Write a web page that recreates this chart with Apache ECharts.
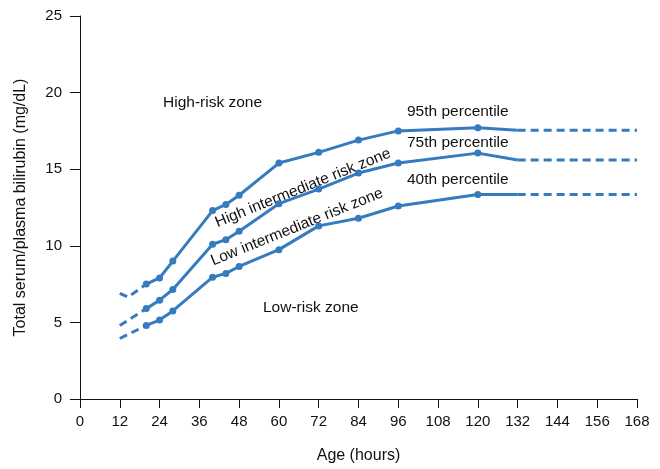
<!DOCTYPE html>
<html>
<head>
<meta charset="utf-8">
<script src="https://cdn.jsdelivr.net/npm/echarts@6/dist/echarts.min.js"></script>
<style>html,body{margin:0;padding:0;background:#fff}#c{width:660px;height:469px}</style>
</head>
<body>
<div id="c"></div>
<script>
// Data
var hours = [20, 24, 28, 40, 44, 48, 60, 72, 84, 96, 120, 132];
var p95 = [7.5, 7.9, 9.0, 12.3, 12.7, 13.3, 15.4, 16.1, 16.9, 17.5, 17.7, 17.55];
var p75 = [5.9, 6.45, 7.15, 10.1, 10.4, 10.95, 12.75, 13.7, 14.75, 15.4, 16.05, 15.6];
var p40 = [4.8, 5.15, 5.75, 7.95, 8.2, 8.65, 9.75, 11.3, 11.8, 12.6, 13.35, 13.35];
var p95EarlyHours = [12, 14.5, 20];
var p95Early = [6.9, 6.65, 7.5];
var p75EarlyHours = [12, 20];
var p75Early = [4.8, 5.9];
var p40EarlyHours = [12, 20];
var p40Early = [3.95, 4.8];
var lateHours = [132, 168];
var p95Late = [17.55, 17.55];
var p75Late = [15.6, 15.6];
var p40Late = [13.35, 13.35];
var xTicks = [0, 12, 24, 36, 48, 60, 72, 84, 96, 108, 120, 132, 144, 156, 168];
var yTicks = [0, 5, 10, 15, 20, 25];

var color = '#357bc0';
var font = 'Liberation Sans, Arial, sans-serif';

function pairs(xs, ys, noLastSymbol) {
  return xs.map(function (x, i) {
    var d = { value: [x, ys[i]] };
    if (noLastSymbol && i === xs.length - 1) d.symbol = 'none';
    return d;
  });
}
function solid(ys) {
  return {
    type: 'line', data: pairs(hours, ys, true), symbol: 'circle', symbolSize: 7,
    lineStyle: { color: color, width: 3 }, itemStyle: { color: color }, z: 3, silent: true
  };
}
function dashed(xs, ys) {
  return {
    type: 'line', data: pairs(xs, ys), symbol: 'none',
    lineStyle: { color: color, width: 3, type: [8, 5] }, z: 2, silent: true
  };
}

var chart = echarts.init(document.getElementById('c'), null, { renderer: 'canvas' });
var txt = { fill: '#111', font: '15.5px ' + font };
chart.setOption({
  animation: false,
  grid: { left: 80, right: 23, top: 16, bottom: 68 },
  xAxis: {
    type: 'value', min: xTicks[0], max: xTicks[xTicks.length - 1], interval: 12,
    name: 'Age (hours)', nameLocation: 'middle', nameGap: 49,
    nameTextStyle: { color: '#111', fontSize: 16, fontFamily: font },
    axisLine: { lineStyle: { color: '#111', width: 1 } },
    axisTick: { length: 9, lineStyle: { color: '#111' } },
    axisLabel: { color: '#111', fontSize: 15, fontFamily: font, margin: 15 },
    splitLine: { show: false }
  },
  yAxis: {
    type: 'value', min: yTicks[0], max: yTicks[yTicks.length - 1], interval: 5,
    name: 'Total serum/plasma bilirubin (mg/dL)', nameLocation: 'middle', nameGap: 51,
    nameTextStyle: { color: '#111', fontSize: 16, fontFamily: font },
    axisLine: { show: true, lineStyle: { color: '#111', width: 1 } },
    axisTick: { show: true, length: 10, lineStyle: { color: '#111' } },
    axisLabel: { color: '#111', fontSize: 15, fontFamily: font, margin: 18 },
    splitLine: { show: false }
  },
  series: [
    solid(p95), solid(p75), solid(p40),
    dashed(p95EarlyHours, p95Early), dashed(p75EarlyHours, p75Early), dashed(p40EarlyHours, p40Early),
    dashed(lateHours, p95Late), dashed(lateHours, p75Late), dashed(lateHours, p40Late)
  ],
  graphic: [
    { type: 'text', left: 163, top: 95, style: Object.assign({ text: 'High-risk zone' }, txt) },
    { type: 'text', left: 407, top: 104, style: Object.assign({ text: '95th percentile' }, txt) },
    { type: 'text', left: 407, top: 135, style: Object.assign({ text: '75th percentile' }, txt) },
    { type: 'text', left: 407, top: 172, style: Object.assign({ text: '40th percentile' }, txt) },
    { type: 'text', left: 263, top: 300, style: Object.assign({ text: 'Low-risk zone' }, txt) },
    { type: 'text', x: 303, y: 188, rotation: 22 * Math.PI / 180,
      style: Object.assign({ text: 'High intermediate risk zone', align: 'center', verticalAlign: 'middle' }, txt) },
    { type: 'text', x: 297, y: 227, rotation: 22 * Math.PI / 180,
      style: Object.assign({ text: 'Low intermediate risk zone', align: 'center', verticalAlign: 'middle' }, txt) }
  ]
});
</script>
</body>
</html>
